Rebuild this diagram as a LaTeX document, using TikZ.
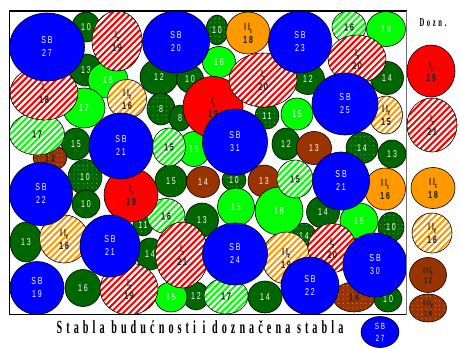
\documentclass[tikz,border=0pt]{standalone}
\usepackage{fontspec}
\usetikzlibrary{shapes.geometric}
\newfontfamily\lblfont[FakeStretch=0.7,LetterSpace=20]{Liberation Sans}
\newfontfamily\lbldark[FakeStretch=0.7,LetterSpace=18,FakeBold=1.6]{Liberation Sans}
\newfontfamily\capfont[FakeStretch=0.55,LetterSpace=22]{Liberation Serif}
\definecolor{sbblue}{RGB}{0,0,255}
\definecolor{treered}{RGB}{255,0,0}
\definecolor{treeorange}{RGB}{255,153,0}
\definecolor{treebrown}{RGB}{153,51,0}
\definecolor{dkgreen}{RGB}{0,102,0}
\definecolor{ltgreen}{RGB}{0,255,0}
\newcommand\rn[2]{#1\raisebox{-0.45ex}{\fontsize{5}{5}\selectfont#2}}

\begin{document}
\begin{tikzpicture}[x=1pt, y=-1pt,
    tree/.style={ellipse, draw=black, line width=0.6pt, inner sep=0pt, align=center,
        font=\lblfont\fontsize{10}{13}\selectfont},
    dark/.style={text=black!85, font=\lbldark\fontsize{10}{13}\selectfont},
    sz/.style 2 args={minimum width=#1pt, minimum height=#2pt},
    dots/.style={fill=#1, path picture={
        \foreach \i in {-24,-19.5,...,24} \foreach \j in {-24,-19.5,...,24}
            \fill[white!85!#1, shift={(path picture bounding box.center)}] (\i,\j) circle[radius=0.35];}},
    stripes/.style={fill=white, path picture={
        \foreach \k in {-120,-113.6,...,26}
            \draw[#1, line width=2pt, shift={(path picture bounding box.center)}] (\k,50) -- ++(100,-100);}},
    sb/.style={tree, fill=sbblue, text=white},
    dg/.style={tree, fill=dkgreen, text=white},
    dgdot/.style={tree, dots=dkgreen, text=white},
    bg/.style={tree, fill=ltgreen, text=white},
    ghatch/.style={tree, stripes=ltgreen, dark},
    ione/.style={tree, fill=treered, dark},
    itwo/.style={tree, stripes=treered, dark},
    iione/.style={tree, fill=treeorange, dark},
    iitwo/.style={tree, stripes=treeorange, dark},
    iiione/.style={tree, fill=treebrown, text=white},
    iiitwo/.style={tree, dots=treebrown, dark},
    legtxt/.style={font=\lbldark\fontsize{8}{10}\selectfont},
    title/.style={font=\capfont\bfseries}
]
\useasboundingbox (0,0) rectangle (460,348);

\begin{scope}
\clip (9.5,11) rectangle (406.5,314.5);
% dark green, dotted and brown trees
\node[dg, sz={28}{30}] (dg10a) at (86,27) {10};
\node[dg, sz={32}{32}] (dg13a) at (86,70) {13};
\node[dg, sz={38}{36}] (dg12a) at (159,77) {12};
\node[dg, sz={27}{28}] (dg10b) at (190,79) {10};
\node[dgdot, sz={22}{30}] (dgdot10a) at (217,30) {10};
\node[dg, sz={33}{31}] (dg12b) at (308,79) {12};
\node[dg, sz={33}{33}] (dg14a) at (387,78) {14};
\node[dgdot, sz={28}{32}] (dgdot8) at (161,109) {8};
\node[dg, sz={22}{26}] (dg8) at (180,118) {8};
\node[dgdot, sz={24}{26}] (dgdot11a) at (267,116) {11};
\node[dg, sz={29}{32}] (dg15a) at (76,144) {15};
\node[iiitwo, sz={34}{26}] (brdot12) at (50,158) {12};
\node[dgdot, sz={34}{35}] (dgdot10b) at (85,177) {10};
\node[dg, sz={28}{28}] (dg10c) at (86,204) {10};
\node[dg, sz={28}{32}] (dg12c) at (286,144) {12};
\node[iiione, sz={35}{33}] (br13a) at (314,148) {13};
\node[dgdot, sz={32}{31}] (dgdot14a) at (362,148) {14};
\node[dg, sz={28}{28}] (dg13b) at (392,154) {13};
\node[dg, sz={32}{32}] (dg15b) at (171,181) {15};
\node[iiione, sz={33}{31}] (br14) at (203,182) {14};
\node[dgdot, sz={24}{22}] (dgdot10c) at (234,180) {10};
\node[iiione, sz={32}{32}] (br13b) at (264,181) {13};
\node[dgdot, sz={20}{22}] (dgdot11b) at (143,225) {11};
\node[dg, sz={33}{34}] (dg13c) at (202,220) {13};
\node[dg, sz={33}{32}] (dg14b) at (323,212) {14};
\node[dgdot, sz={26}{30}] (dgdot10d) at (391,227) {10};
\node[dgdot, sz={24}{26}] (dgdot14b) at (304,236) {14};
\node[dg, sz={32}{40}] (dg13d) at (26,242) {13};
\node[dg, sz={28}{32}] (dg14c) at (150,254) {14};
\node[dg, sz={36}{37}] (dg16) at (83,288) {16};
\node[dg, sz={26}{28}] (dg12d) at (196,296) {12};
\node[dg, sz={34}{32}] (dg14d) at (265,297) {14};
\node[iiitwo, sz={42}{30}] (brdot14) at (354,297) {14};
\node[dg, sz={28}{26}] (dg10e) at (388,299) {10};
% bright green and hatched green
\node[bg, sz={40}{36}] (bg16a) at (108,80) {16};
\node[bg, sz={33}{31}] (bg16b) at (219,62) {16};
\node[bg, sz={39}{35}] (bg18a) at (386,29) {18};
\node[bg, sz={42}{40}] (bg17) at (84,108) {17};
\node[bg, sz={32}{32}] (bg15a) at (297,114) {15};
\node[bg, sz={32}{35}] (bg15b) at (194,149) {15};
\node[bg, sz={37}{38}] (bg15c) at (236,207) {15};
\node[bg, sz={48}{48}] (bg18b) at (279,211) {18};
\node[bg, sz={38}{36}] (bg15d) at (359,221) {15};
\node[bg, sz={32}{30}] (bg15e) at (171,297) {15};
\node[ghatch, sz={34}{32}] (gh16a) at (349,27) {16};
\node[ghatch, sz={55}{42}] (gh17a) at (37,134) {17};
\node[ghatch, sz={33}{38}] (gh15a) at (169,147) {15};
\node[ghatch, sz={36}{38}] (gh15b) at (295,179) {15};
\node[ghatch, sz={38}{35}] (gh16b) at (166,216) {16};
\node[ghatch, sz={44}{36}] (gh17b) at (226,296) {17};
% orange
\node[iione, sz={44}{42}] (ii18) at (248,33) {\rn{II}{1}\\18};
\node[iitwo, sz={39}{39}] (ii16a) at (127,99) {\rn{II}{2}\\16};
\node[iitwo, sz={33}{38}] (ii15) at (386,115) {\rn{II}{2}\\15};
\node[iione, sz={41}{42}] (ii16b) at (385,189) {\rn{II}{1}\\16};
\node[iitwo, sz={49}{48}] (ii16c) at (64,239) {\rn{II}{2}\\16};
\node[iitwo, sz={48}{52}] (ii19) at (286,258) {\rn{II}{2}\\19};
% red
\node[ione, sz={60}{61}] (i19a) at (213,107) {\rn{I}{1}\\19};
\node[ione, sz={54}{54}] (i19b) at (131,195) {\rn{I}{1}\\19};
\node[itwo, sz={50}{60}] (i19c) at (117,41) {\rn{I}{2}\\19};
\node[itwo, sz={68}{54}] (i18) at (44,93) {\rn{I}{2}\\18};
\node[itwo, sz={68}{54}] (i20a) at (263,80) {\rn{I}{2}\\20};
\node[itwo, sz={58}{48}] (i20b) at (357,59) {\rn{I}{2}\\20};
\node[itwo, sz={53}{66}] (i21) at (182,255) {\rn{I}{2}\\21};
\node[itwo, sz={48}{49}] (i20c) at (332,248) {\rn{I}{2}\\20};
\node[itwo, sz={58}{52}] (i19d) at (129,289) {\rn{I}{2}\\19};
% future trees
\node[sb, sz={75}{68}] (sb27) at (47,47) {SB\\27};
\node[sb, sz={67}{62}] (sb20) at (176,42) {SB\\20};
\node[sb, sz={63}{62}] (sb23) at (300,42) {SB\\23};
\node[sb, sz={66}{62}] (sb25) at (345,104) {SB\\25};
\node[sb, sz={64}{66}] (sb21a) at (121,146) {SB\\21};
\node[sb, sz={65}{66}] (sb31) at (235,142) {SB\\31};
\node[sb, sz={63}{63}] (sb22a) at (41,194) {SB\\22};
\node[sb, sz={57}{58}] (sb21b) at (341,181) {SB\\21};
\node[sb, sz={60}{62}] (sb21c) at (110,246) {SB\\21};
\node[sb, sz={65}{62}] (sb24) at (235,254) {SB\\24};
\node[sb, sz={64}{64}] (sb30) at (375,265) {SB\\30};
\node[sb, sz={54}{53}] (sb19) at (37,288) {SB\\19};
\node[sb, sz={58}{58}] (sb22b) at (310,286) {SB\\22};
\end{scope}

% frame
\draw[line width=1.6pt] (406.5,11) -- (9.5,11) -- (9.5,314.5) -- (406.5,314.5);
\draw[black!55, line width=0.8pt] (406.5,11) -- (406.5,314.5);

% legend
\node[title, font=\capfont\bfseries\fontsize{12}{12}\selectfont] (dozn) at (433,23) {Dozn.};
\node[ione, sz={48}{52}] (legi1) at (431,71) {\rn{I}{1}\\19};
\node[itwo, sz={50}{54}] (legi2) at (432,125) {\rn{I}{2}\\21};
\node[iione, sz={44}{41}] (legii1) at (433,188) {\rn{II}{1}\\18};
\node[iitwo, sz={40}{40}] (legii2) at (432,233) {\rn{II}{2}\\16};
\node[iiione, sz={37}{35}, dark, legtxt] (legiii1) at (428,275) {\rn{III}{1}\\12};
\node[iiitwo, sz={37}{28}, legtxt] (legiii2) at (428,308) {\rn{III}{2}\\14};
\node[sb, sz={38}{31}, font=\lblfont\fontsize{9}{12}\selectfont] (legsb) at (380,332) {SB\\27};

\node[title, font=\capfont\bfseries\fontsize{18.5}{18.5}\selectfont] (caption) at (200,327)
    {Stabla budućnosti i doznačena stabla};
\end{tikzpicture}
\end{document}
